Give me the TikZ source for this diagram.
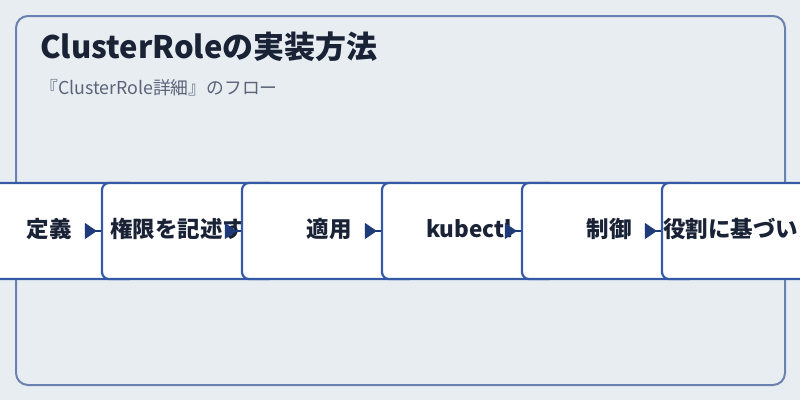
\documentclass[tikz,border=0pt]{standalone}
\usepackage{fontspec}
\setmainfont{Noto Sans CJK JP}
\usetikzlibrary{positioning,arrows.meta}
\definecolor{bg}{HTML}{E8EDF2}
\definecolor{frameline}{HTML}{6A82B0}
\definecolor{boxline}{HTML}{3559A5}
\definecolor{arrowc}{HTML}{1F3A78}
\definecolor{ink}{HTML}{1A2236}
\definecolor{subink}{HTML}{5B6478}

\begin{document}
\begin{tikzpicture}[x=1pt,y=-1pt,
    stage/.style={draw=boxline,line width=2.2pt,fill=white,rounded corners=7pt,
      minimum width=174pt,minimum height=96pt,text=ink,
      font=\bfseries\fontsize{22.5}{26}\selectfont,text height=16pt,text depth=4pt},
    heading/.style={inner sep=0pt,anchor=base west,text=ink,font=\bfseries\fontsize{31}{36}\selectfont},
    subheading/.style={inner sep=0pt,anchor=base west,text=subink,font=\fontsize{17.8}{21}\selectfont},
    link/.style={draw=arrowc,line width=2.2pt},
    tip/.style={-{Triangle[length=12pt,width=16pt]},draw=arrowc,fill=arrowc,line width=1pt},
    node distance=-36.2pt]
    \useasboundingbox (0,0) rectangle (800,400);
    \clip (0,0) rectangle (800,400);
    \fill[bg] (0,0) rectangle (800,400);
    \draw[frameline,line width=2pt,rounded corners=12pt] (16,16) rectangle (785,385);
    \node[heading] (title) at (40,58) {ClusterRoleの実装方法};
    \node[subheading] (subtitle) at (40,94) {『ClusterRole詳細』のフロー};
    % steps
    \node[stage] (def) at (49,231) {定義};
    \node[stage,right=of def] (write) {権限を記述する};
    \node[stage,right=of write] (apply) {適用};
    \node[stage,right=of apply] (kubectl) {kubectl};
    \node[stage,right=of kubectl] (ctrl) {制御};
    \node[stage,right=of ctrl,text width=172pt,inner xsep=1pt,align=left] (role) {役割に基づいた};
    % arrows
    \foreach \n in {write,apply,kubectl,ctrl,role} {
        \draw[link] ([xshift=-16pt]\n.west) -- (\n.west);
        \draw[tip] ([xshift=-16pt]\n.west) -- ([xshift=-4pt]\n.west);
    }
\end{tikzpicture}
\end{document}
